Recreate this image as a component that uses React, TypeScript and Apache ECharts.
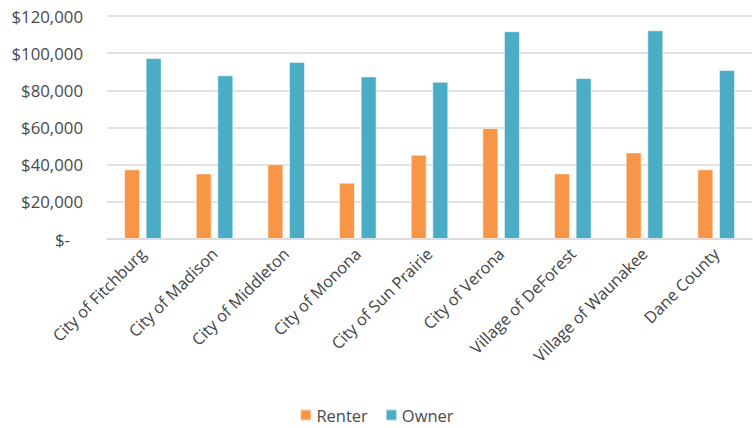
import React, { useEffect, useRef } from "react";
import * as echarts from "echarts";

const categories = [
  "City of Fitchburg",
  "City of Madison",
  "City of Middleton",
  "City of Monona",
  "City of Sun Prairie",
  "City of Verona",
  "Village of DeForest",
  "Village of Waunakee",
  "Dane County",
];
const renter = [37500, 35300, 40300, 30300, 45400, 59700, 35300, 46600, 37500];
const owner = [97400, 88100, 95300, 87500, 84600, 111800, 86600, 112300, 90900];
const seriesNames = ["Renter", "Owner"];

const fmt = (v: number) => {
  if (v === 0) return "$-\u00a0\u00a0\u00a0";
  return "$" + v.toLocaleString("en-US");
};

export default function App() {
  const ref = useRef<HTMLDivElement>(null);
  useEffect(() => {
    document.body.style.margin = "0";
    const chart = echarts.init(ref.current!, null, { renderer: "svg" });
    const font = "'Open Sans', sans-serif";
    chart.setOption({
      animation: false,
      textStyle: { fontFamily: font },
      grid: { left: 107, right: 1, top: 16, bottom: 189 },
      legend: {
        top: 406,
        left: "center",
        padding: 0,
        itemWidth: 11,
        itemHeight: 11,
        itemGap: 17,
        itemTextGap: 5,
        icon: "rect",
        textStyle: { fontSize: 16.5, lineHeight: 18, color: "#4a4a4a", fontFamily: font },
        data: seriesNames,
      },
      xAxis: {
        type: "category",
        data: categories,
        axisLine: { lineStyle: { color: "#d9d9d9", width: 1.5 } },
        axisTick: { show: false },
        axisLabel: {
          rotate: 45,
          interval: 0,
          fontSize: 16.3,
          color: "#444444",
          margin: 12,
          fontFamily: font,
        },
      },
      yAxis: {
        type: "value",
        min: 0,
        max: 120000,
        interval: 20000,
        axisLine: { show: false },
        axisTick: { show: false },
        splitLine: { lineStyle: { color: "#d9d9d9", width: 1.5 } },
        axisLabel: {
          formatter: fmt,
          fontSize: 16.8,
          color: "#4a4a4a",
          margin: 24,
          fontFamily: font,
        },
      },
      series: [
        {
          name: seriesNames[0],
          type: "bar",
          data: renter,
          barWidth: 16,
          barGap: "35%",
          itemStyle: { color: "#F79646", borderColor: "rgba(255,255,255,0.55)", borderWidth: 1 },
        },
        {
          name: seriesNames[1],
          type: "bar",
          data: owner,
          barWidth: 16,
          barGap: "35%",
          itemStyle: { color: "#4BACC6", borderColor: "rgba(255,255,255,0.55)", borderWidth: 1 },
        },
      ],
    });
    return () => chart.dispose();
  }, []);
  return <div ref={ref} style={{ width: 753, height: 428 }} />;
}
